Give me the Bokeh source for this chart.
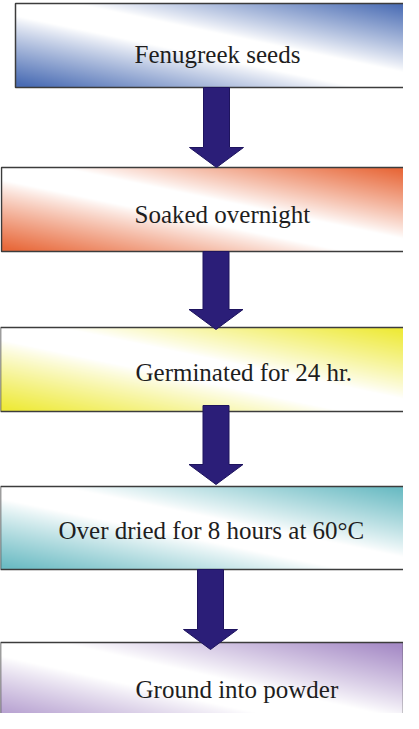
import numpy as np
from bokeh.plotting import figure
from bokeh.models import Range1d
from bokeh.core.properties import value
from bokeh.embed import file_html
from bokeh.resources import INLINE

# ---- content ----
labels = ["Fenugreek seeds", "Soaked overnight", "Germinated for 24 hr.",
          "Over dried for 8 hours at 60°C", "Ground into powder"]
box_colors = ["#4a6cb4", "#e8693b", "#eeea3a", "#6cbcc4", "#a68bc6"]
arrow_color = "#2b1e78"

# ---- layout (reference pixel coords, y measured downward) ----
REF_H = 729
box_left = [23, 9, 8, 8, 8]
box_right = [425, 413, 412, 412, 411]
box_top = [11, 175, 335, 494, 650]
box_bottom = [95, 259, 419, 577, 740]
text_x = [142, 142, 143, 66, 143]
text_base = [62, 222, 380, 538, 697]
arrow_cx = [224, 223.5, 223.5, 218]
arrow_start = [95, 259, 413, 577]
arrow_tip = [175, 337, 492, 657]
SHAFT_HALF, HEAD_HALF, HEAD_LEN = 13, 27, 20


def Y(r):
    return REF_H - r


def hex_rgb(c):
    c = c.lstrip("#")
    return np.array([int(c[i:i + 2], 16) for i in (0, 2, 4)], dtype=float)


def gradient_image(color, w, h):
    yy, xx = np.mgrid[0:h, 0:w].astype(float)
    u = (xx + 0.5 - w / 2) / (w / 2)
    v = (yy + 0.5 - h / 2) / (h / 2)  # row 0 = bottom
    s = np.abs(u + v) / 2.0
    inten = np.clip((s - 0.15) / 0.8, 0, 1) ** 0.9
    rgb = hex_rgb(color)
    out = np.empty((h, w, 4), dtype=np.uint8)
    for k in range(3):
        out[..., k] = np.round(255 * (1 - inten) + rgb[k] * inten).astype(np.uint8)
    out[..., 3] = 255
    return out.view(dtype=np.uint32).reshape((h, w))


p = figure(width=403, height=713, x_range=Range1d(8, 411), y_range=Range1d(8, 721),
           output_backend="svg", toolbar_location=None, min_border=0)
p.axis.visible = False
p.grid.visible = False
p.outline_line_color = None
p.background_fill_color = "white"

for i, col in enumerate(box_colors):
    w = box_right[i] - box_left[i]
    h = box_bottom[i] - box_top[i]
    p.image_rgba(image=[gradient_image(col, w, h)], x=box_left[i], y=Y(box_bottom[i]), dw=w, dh=h)

p.quad(left=box_left, right=box_right, top=[Y(t) for t in box_top],
       bottom=[Y(b) for b in box_bottom], fill_color=None,
       line_color="#3c3c3c", line_width=1.5)

xs, ys = [], []
for cx, st, tip in zip(arrow_cx, arrow_start, arrow_tip):
    base = tip - HEAD_LEN
    xs.append([cx - SHAFT_HALF, cx + SHAFT_HALF, cx + SHAFT_HALF, cx + HEAD_HALF,
               cx, cx - HEAD_HALF, cx - SHAFT_HALF])
    ys.append([Y(st), Y(st), Y(base), Y(base), Y(tip), Y(base), Y(base)])
p.patches(xs, ys, fill_color=arrow_color, line_color="#1e145e", line_width=1)

p.text(x=text_x, y=[Y(b) for b in text_base], text=labels,
       text_font=value("Liberation Serif"), text_font_size="25px",
       text_color="#1e1e1e", text_baseline="alphabetic", text_align="left")

open("out.html", "w").write(file_html(p, INLINE))
